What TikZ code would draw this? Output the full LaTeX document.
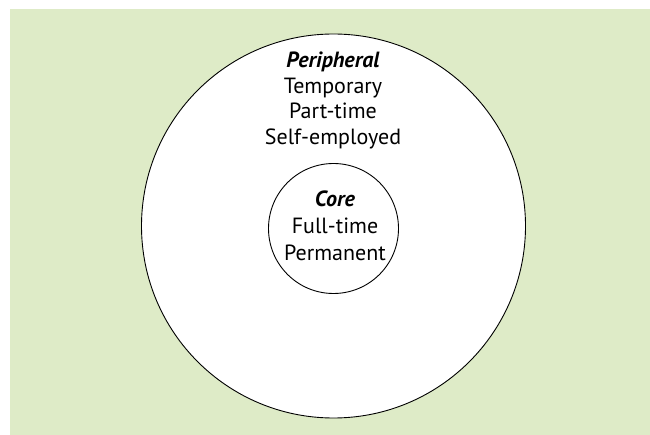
\documentclass[tikz,border=0pt]{standalone}
\usepackage{fontspec}
\setmainfont{PT Sans}
\definecolor{bgGreen}{RGB}{222,235,199}
\begin{document}
\begin{tikzpicture}[
        x=1pt,y=-1pt,
        ring/.style={circle,draw,fill=white,line width=.9pt,inner sep=0pt},
        lbl/.style={align=center,inner sep=0pt,anchor=north},
        ]
        \useasboundingbox (0,0) rectangle (650,435);
        \fill[bgGreen] (10,9) rectangle (650,435);
        \node[ring,minimum size=384pt] (peri) at (333.5,226) {};
        \node[ring,minimum size=130pt] (core) at (333.5,228.5) {};
        \node[lbl,font=\fontsize{22}{25.7}\selectfont] (periText) at (333,51.5){\textbf{\textit{Peripheral}}\\Temporary\\Part-time\\Self-employed};
        \node[lbl,font=\fontsize{22}{27}\selectfont] (coreText) at (335,190.5){\textbf{\textit{Core}}\\Full-time\\Permanent};
\end{tikzpicture}
\end{document}
